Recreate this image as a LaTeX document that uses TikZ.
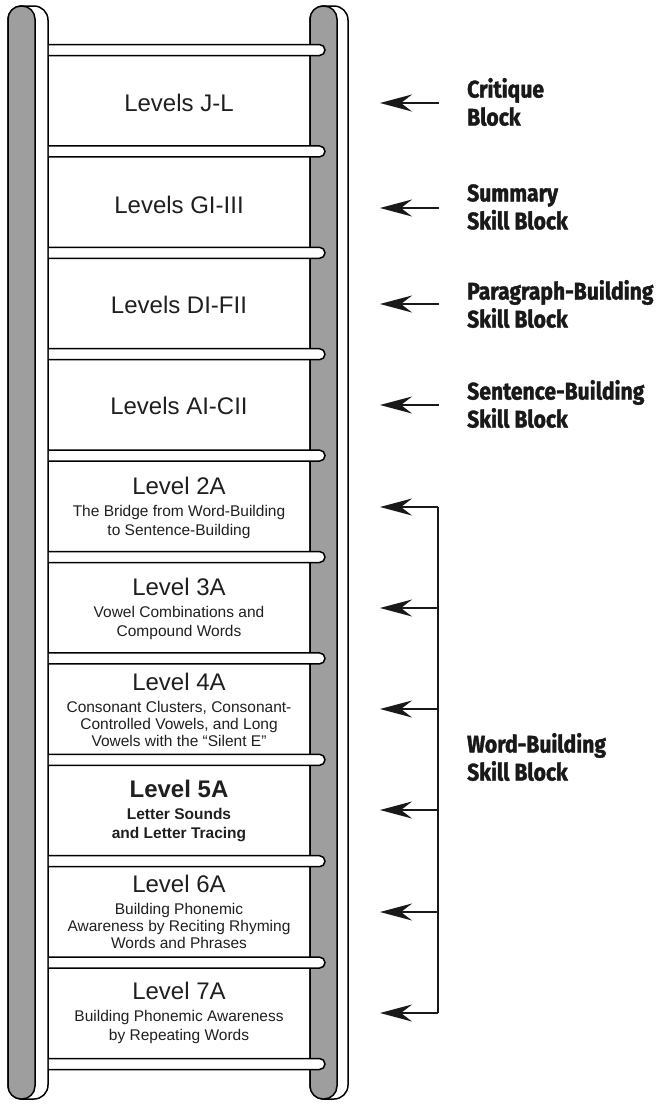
\documentclass[tikz,border=0pt]{standalone}
\usepackage{fontspec}
\setmainfont{Liberation Sans}
\newfontfamily\labelfont{Fira Sans}[FakeStretch=0.88, BoldFeatures={FakeBold=1.6}]
\usetikzlibrary{arrows.meta}
\definecolor{railgray}{gray}{0.62}
\definecolor{ink}{gray}{0.12}
\tikzset{
  railline/.style={line width=1.5pt, draw=black},
  rungline/.style={line width=1.5pt, draw=black, fill=white},
  lvtitle/.style={text=ink, inner sep=0pt, font=\fontsize{24}{28}\selectfont},
  lvblock/.style={text=ink, inner sep=0pt, align=center, font=\fontsize{15.5}{18.5}\selectfont},
  lvblockiii/.style={lvblock, font=\fontsize{15.5}{17}\selectfont},
  blocklabel/.style={text=black!90, inner sep=0pt, anchor=west, align=left, font=\labelfont\bfseries\fontsize{24}{28}\selectfont},
  warrow/.style={line width=2pt, draw=black!90, -{Stealth[length=32pt, width=17pt, inset=11pt, fill=black!90]}},
}
\newcommand{\ttl}[1]{{\fontsize{24}{28}\selectfont #1}}
\begin{document}
\begin{tikzpicture}[x=1pt,y=-1pt]
\useasboundingbox (0,0) rectangle (664,1104);
% rails
\draw[railline, fill=white, rounded corners=14] (8,6) rectangle (48,1099);
\draw[railline, fill=railgray, rounded corners=13] (8,6) rectangle (35,1099);
\draw[railline, fill=white, rounded corners=14] (310,6) rectangle (348,1099);
\draw[railline, fill=railgray, rounded corners=13] (310,6) rectangle (337,1099);
% rungs
\foreach \y in {50,151.4,252.8,354.2,455.6,557,658.4,759.8,861.2,962.6,1064}{
  \draw[rungline] (48.8,\y-5.5) -- (319.5,\y-5.5) arc[start angle=-90, end angle=90, radius=5.5] -- (48.8,\y+5.5);
}
% level texts
\node[lvtitle] (JL) at (179,103) {Levels J-L};
\node[lvtitle] (GI) at (179,205) {Levels GI-III};
\node[lvtitle] (DI) at (179,305) {Levels DI-FII};
\node[lvtitle] (AI) at (179,406) {Levels AI-CII};
\node[lvblock] (L2A) at (179,508) {\ttl{Level 2A}\\[3.5pt]The Bridge from Word-Building\\to Sentence-Building};
\node[lvblock] (L3A) at (179,609) {\ttl{Level 3A}\\[3.5pt]Vowel Combinations and\\Compound Words};
\node[lvblockiii] (L4A) at (179,710) {\ttl{Level 4A}\\[5pt]Consonant Clusters, Consonant-\\Controlled Vowels, and Long\\Vowels with the “Silent E”};
\node[lvblock, font=\bfseries\fontsize{15.5}{18.5}\selectfont] (L5A) at (179,811) {\ttl{Level 5A}\\[3.5pt]Letter Sounds\\and Letter Tracing};
\node[lvblockiii] (L6A) at (179,912) {\ttl{Level 6A}\\[5pt]Building Phonemic\\Awareness by Reciting Rhyming\\Words and Phrases};
\node[lvblock] (L7A) at (179,1013) {\ttl{Level 7A}\\[3.5pt]Building Phonemic Awareness\\by Repeating Words};
% labels
\node[blocklabel] (crit) at (467,102) {Critique\\Block};
\node[blocklabel] (summ) at (467,207) {Summary\\Skill Block};
\node[blocklabel] (para) at (467,304) {Paragraph-Building\\Skill Block};
\node[blocklabel] (sent) at (467,404) {Sentence-Building\\Skill Block};
\node[blocklabel] (word) at (467,757) {Word-Building\\Skill Block};
% arrow coordinates
\coordinate (tJL) at (439,103); \coordinate (hJL) at (380,103);
\coordinate (tGI) at (439,208); \coordinate (hGI) at (380,208);
\coordinate (tDI) at (439,304); \coordinate (hDI) at (380,304);
\coordinate (tAI) at (439,405); \coordinate (hAI) at (380,405);
\draw[warrow] (tJL) -- (hJL);
\draw[warrow] (tGI) -- (hGI);
\draw[warrow] (tDI) -- (hDI);
\draw[warrow] (tAI) -- (hAI);
% bracket
\coordinate (btop) at (438,507);
\coordinate (bbot) at (438,1013);
\draw[line width=2pt, draw=black!90] (btop) -- (bbot);
\foreach \yy/\nm in {507/a,608/b,709/c,810/d,912/e,1013/f}{
  \coordinate (bt\nm) at (438,\yy);
  \coordinate (bh\nm) at (380,\yy);
  \draw[warrow] (bt\nm) -- (bh\nm);
}
\end{tikzpicture}
\end{document}
